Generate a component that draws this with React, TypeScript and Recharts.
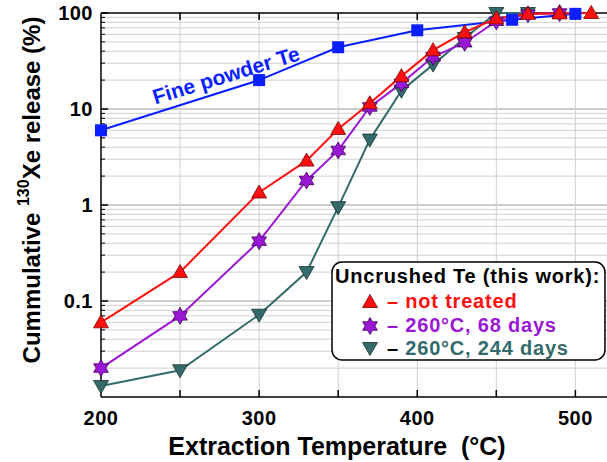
import React from "react";
import { LineChart, Line, XAxis, YAxis, ReferenceLine } from "recharts";

const fineTemps = [200, 300, 350, 400, 460, 500];
const fineRelease = [6, 20, 44, 66, 85, 98];

const untreatedTemps = [200, 250, 300, 330, 350, 370, 390, 410, 430, 450, 470, 490, 510];
const untreatedRelease = [0.06, 0.2, 1.35, 2.9, 6.2, 11.5, 22, 41, 63, 88, 98, 99, 100];

const days68Temps = [200, 250, 300, 330, 350, 370, 390, 410, 430, 450, 470, 490];
const days68Release = [0.02, 0.07, 0.42, 1.8, 3.7, 10.5, 18.5, 35, 49, 82, 97, 100];

const days244Temps = [200, 250, 300, 330, 350, 370, 390, 410, 430, 450, 470];
const days244Release = [0.013, 0.019, 0.072, 0.2, 0.95, 4.8, 15.5, 29, 55, 100, 100];

const xTicks = [200, 300, 400, 500];
const xMinorTicks = [250, 300, 350, 400, 450, 500];
const yTicks = [0.1, 1, 10, 100];
const decades = [0.01, 0.1, 1, 10];
const mantissas = [2, 3, 4, 5, 6, 7, 8, 9];

const FONT = '"Liberation Sans", Arial, sans-serif';
const BLUE = "#0a1fff";
const RED = "#ff1010";
const PURPLE = "#9a18d4";
const TEAL = "#336b6b";

const toRows = (t: number[], v: number[]) => t.map((x, i) => ({ t: x, v: v[i] }));

const minorValues = decades.flatMap((d) => mantissas.map((m) => +(d * m).toPrecision(3)));

const squareDot = (p: any) => (
    <rect key={`sq-${p.index}`} x={p.cx - 6} y={p.cy - 6} width={12} height={12} fill={BLUE} />
);

const triUp = (cx: number, cy: number) => `${cx},${cy - 7.5} ${cx - 7.5},${cy + 5.5} ${cx + 7.5},${cy + 5.5}`;
const triDown = (cx: number, cy: number) => `${cx - 7.5},${cy - 5.5} ${cx + 7.5},${cy - 5.5} ${cx},${cy + 7.5}`;
const hexagram = (cx: number, cy: number) => {
    const pts: string[] = [];
    for (let i = 0; i < 12; i++) {
        const r = i % 2 === 0 ? 8.5 : 4.9;
        const a = ((-90 + 30 * i) * Math.PI) / 180;
        pts.push(`${cx + r * Math.cos(a)},${cy + r * Math.sin(a)}`);
    }
    return pts.join(" ");
};

const upDot = (p: any) => (
    <polygon key={`up-${p.index}`} points={triUp(p.cx, p.cy)} fill={RED} stroke="#7a0000" strokeWidth={0.8} />
);
const starDot = (p: any) => (
    <polygon key={`st-${p.index}`} points={hexagram(p.cx, p.cy)} fill={PURPLE} stroke="#3d0055" strokeWidth={0.8} />
);
const downDot = (p: any) => (
    <polygon key={`dn-${p.index}`} points={triDown(p.cx, p.cy)} fill={TEAL} stroke="#173030" strokeWidth={0.8} />
);

// tick lengths converted to data units (plot is ~158 px per 100 degC, ~96 px per decade)
const yTickShort = 200 + 4 / 1.58;
const yTickLong = 200 + 7 / 1.58;
const xTickBottom = 0.01 * Math.pow(10, 7 / 96);
const xTickTop = 100 / Math.pow(10, 7 / 96);

const tickStyle = { fill: "#000", fontSize: 20, fontWeight: "bold", fontFamily: FONT, letterSpacing: 0.5 };

export default function App() {
    return (
        <div style={{ position: "absolute", left: 0, top: 0, width: 607, height: 462, background: "#fff" }}>
            <LineChart width={607} height={462} margin={{ top: 13, right: 0, left: 0, bottom: 0 }}>
                <XAxis
                    type="number"
                    dataKey="t"
                    domain={[200, 520]}
                    ticks={xTicks}
                    height={65}
                    tickLine={false}
                    tickMargin={8}
                    axisLine={{ stroke: "#000", strokeWidth: 1.5 }}
                    tick={tickStyle}
                />
                <YAxis
                    type="number"
                    scale="log"
                    domain={[0.01, 100]}
                    ticks={yTicks}
                    width={101}
                    tickLine={false}
                    tickFormatter={(v: number) => String(v)}
                    axisLine={{ stroke: "#000", strokeWidth: 1.5 }}
                    tick={tickStyle}
                />
                {minorValues.map((v) => (
                    <ReferenceLine key={`hg-${v}`} y={v} stroke="#d0d0d0" strokeWidth={1} />
                ))}
                {[0.1, 1, 10].map((v) => (
                    <ReferenceLine key={`hm-${v}`} y={v} stroke="#9a9a9a" strokeWidth={1} />
                ))}
                {xMinorTicks.map((v) => (
                    <ReferenceLine key={`vg-${v}`} x={v} stroke="#d0d0d0" strokeWidth={1} />
                ))}
                <ReferenceLine y={100} stroke="#000" strokeWidth={1.5} />
                {xMinorTicks.map((v) => (
                    <ReferenceLine key={`tb-${v}`} segment={[{ x: v, y: 0.01 }, { x: v, y: xTickBottom }]} stroke="#000" strokeWidth={1.5} />
                ))}
                {xMinorTicks.map((v) => (
                    <ReferenceLine key={`tt-${v}`} segment={[{ x: v, y: 100 }, { x: v, y: xTickTop }]} stroke="#000" strokeWidth={1.5} />
                ))}
                {minorValues.map((v) => (
                    <ReferenceLine key={`ym-${v}`} segment={[{ x: 200, y: v }, { x: yTickShort, y: v }]} stroke="#000" strokeWidth={1} />
                ))}
                {yTicks.map((v) => (
                    <ReferenceLine key={`yM-${v}`} segment={[{ x: 200, y: v }, { x: yTickLong, y: v }]} stroke="#000" strokeWidth={1.5} />
                ))}
                <Line data={toRows(fineTemps, fineRelease)} dataKey="v" type="linear" stroke={BLUE} strokeWidth={2} dot={squareDot} isAnimationActive={false} />
                <Line data={toRows(days244Temps, days244Release)} dataKey="v" type="linear" stroke={TEAL} strokeWidth={2} dot={downDot} isAnimationActive={false} />
                <Line data={toRows(days68Temps, days68Release)} dataKey="v" type="linear" stroke={PURPLE} strokeWidth={2} dot={starDot} isAnimationActive={false} />
                <Line data={toRows(untreatedTemps, untreatedRelease)} dataKey="v" type="linear" stroke={RED} strokeWidth={2} dot={upDot} isAnimationActive={false} />
            </LineChart>
            <svg width={607} height={462} style={{ position: "absolute", left: 0, top: 0, pointerEvents: "none" }} fontFamily={FONT} fontWeight="bold">
                <text x={226} y={75} fill={BLUE} fontSize={21} textAnchor="middle" dominantBaseline="central" transform="rotate(-17 226 75)">
                    Fine powder Te
                </text>
                <text x={31} y={190} fontSize={24} textAnchor="middle" dominantBaseline="central" transform="rotate(-90 31 190)" fill="#000">
                    Cummulative <tspan fontSize={16} dy={-8}>130</tspan>
                    <tspan dy={8}>Xe release (%)</tspan>
                </text>
                <text x={337} y={455} fontSize={25} textAnchor="middle" fill="#000" style={{ whiteSpace: "pre" }}>
                    Extraction Temperature  (°C)
                </text>
                <rect x={332} y={262} width={273} height={98} rx={10} fill="#fff" stroke="#000" strokeWidth={1.5} />
                <g fontSize={20} letterSpacing={0.8}>
                    <text x={335} y={283} fill="#000">Uncrushed Te (this work):</text>
                    <polygon points={triUp(370, 302)} fill={RED} stroke="#7a0000" strokeWidth={0.8} />
                    <text x={387} y={308} fill={RED}>– not treated</text>
                    <polygon points={hexagram(370, 326)} fill={PURPLE} stroke="#3d0055" strokeWidth={0.8} />
                    <text x={387} y={332} fill={PURPLE}>– 260°C, 68 days</text>
                    <polygon points={triDown(370, 348)} fill={TEAL} stroke="#173030" strokeWidth={0.8} />
                    <text x={387} y={355} fill={TEAL}>
                        <tspan fill="#000">–</tspan> 260°C, 244 days
                    </text>
                </g>
            </svg>
        </div>
    );
}
